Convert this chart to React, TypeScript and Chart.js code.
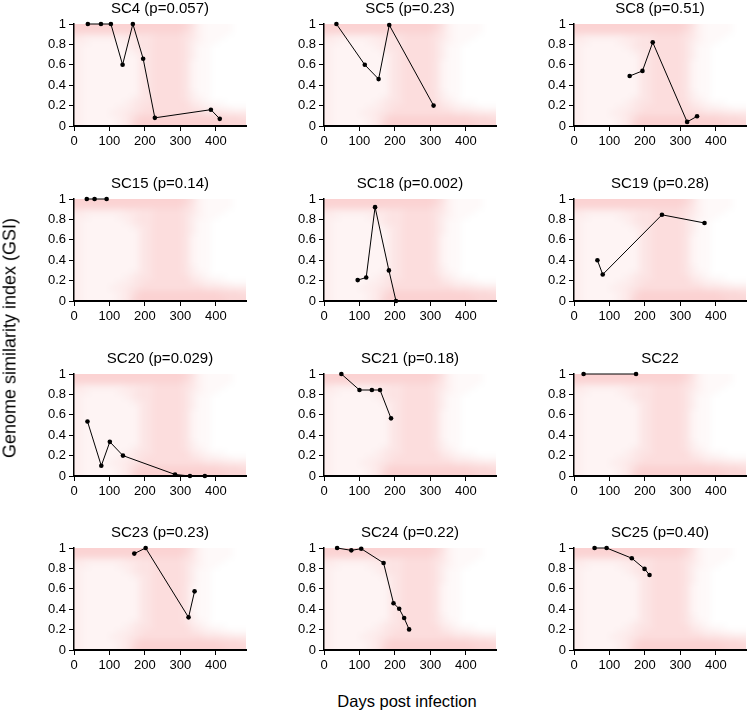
import React, { useEffect, useRef } from "react";
import { Chart, registerables } from "chart.js";

Chart.register(...registerables);

// ---------------- data ----------------
const SC4_DAYS = [39, 76, 104, 137, 166, 195, 228, 386, 411];
const SC4_GSI = [1, 1, 1, 0.6, 1, 0.66, 0.08, 0.16, 0.07];
const SC5_DAYS = [35, 115, 154, 184, 309];
const SC5_GSI = [1, 0.6, 0.46, 0.99, 0.2];
const SC8_DAYS = [157, 193, 222, 319, 347];
const SC8_GSI = [0.49, 0.54, 0.82, 0.04, 0.095];
const SC15_DAYS = [36, 58, 92];
const SC15_GSI = [1, 1, 1];
const SC18_DAYS = [95, 119, 144, 183, 203];
const SC18_GSI = [0.205, 0.23, 0.92, 0.3, 0];
const SC19_DAYS = [66, 81, 248, 368];
const SC19_GSI = [0.4, 0.26, 0.845, 0.765];
const SC20_DAYS = [38, 77, 101, 138, 285, 327, 369];
const SC20_GSI = [0.535, 0.1, 0.335, 0.2, 0.015, 0, 0];
const SC21_DAYS = [49, 100, 135, 158, 189];
const SC21_GSI = [1, 0.843, 0.843, 0.843, 0.565];
const SC22_DAYS = [27, 175];
const SC22_GSI = [1, 1];
const SC23_DAYS = [170, 202, 323, 340];
const SC23_GSI = [0.945, 1, 0.32, 0.575];
const SC24_DAYS = [37, 77, 105, 168, 196, 212, 226, 240];
const SC24_GSI = [1, 0.977, 0.993, 0.853, 0.459, 0.404, 0.313, 0.202];
const SC25_DAYS = [58, 92, 163, 199, 213];
const SC25_GSI = [1, 1, 0.9, 0.795, 0.735];

const PANEL_TITLES = [
  "SC4 (p=0.057)", "SC5 (p=0.23)", "SC8 (p=0.51)",
  "SC15 (p=0.14)", "SC18 (p=0.002)", "SC19 (p=0.28)",
  "SC20 (p=0.029)", "SC21 (p=0.18)", "SC22",
  "SC23 (p=0.23)", "SC24 (p=0.22)", "SC25 (p=0.40)",
];
const PANEL_DAYS = [
  SC4_DAYS, SC5_DAYS, SC8_DAYS, SC15_DAYS, SC18_DAYS, SC19_DAYS,
  SC20_DAYS, SC21_DAYS, SC22_DAYS, SC23_DAYS, SC24_DAYS, SC25_DAYS,
];
const PANEL_GSI = [
  SC4_GSI, SC5_GSI, SC8_GSI, SC15_GSI, SC18_GSI, SC19_GSI,
  SC20_GSI, SC21_GSI, SC22_GSI, SC23_GSI, SC24_GSI, SC25_GSI,
];

const X_TICKS = [0, 100, 200, 300, 400];
const X_TICK_LABELS = ["0", "100", "200", "300", "400"];
const Y_TICKS = [0, 0.2, 0.4, 0.6, 0.8, 1];
const Y_TICK_LABELS = ["0", "0.2", "0.4", "0.6", "0.8", "1"];
const X_MIN = 0;
const X_MAX = 485;

const Y_LABEL = "Genome similarity index (GSI)";
const X_LABEL = "Days post infection";

// background density (rows: GSI 1.0 -> 0.0 in 0.05 steps; columns: days 0 -> max)
const HEAT_ROWS = [
  "888888888888888752111100",
  "777777777777777642111100",
  "433333344556666542111000",
  "332222334556666532110000",
  "322222234556666531100000",
  "322222223456666531100000",
  "322222222456666531100000",
  "322222222456666521100000",
  "322222222456666521100000",
  "322222222456666521100000",
  "322222222456666521100000",
  "322222222456666521100000",
  "322222222456666521100000",
  "322222222456666531100000",
  "322222223456666532100000",
  "322222234556666643211000",
  "322222334566666654332211",
  "322223345666666666555444",
  "322222346888888888887776",
  "322222347888888888888777",
];
const HEAT_MAX_COLOR = [250, 204, 204];

// ---------------- style ----------------
const FONT = "'Liberation Sans', Arial, Helvetica, sans-serif";
const COL_LEFT = [74, 324, 574];
const ROW_TOP = [24, 198.8, 373.6, 548.4];
const PLOT_W = 174;
const PLOT_H = 102;
const PAD_L = 56;
const PAD_T = 24;
const AXIS_H = 26;

function heatColor(ch: string, k: number) {
  const t = Number(ch) / 9;
  return Math.round(255 - (255 - HEAT_MAX_COLOR[k]) * t);
}

const heatPlugin = {
  id: "heatBackground",
  beforeDraw(chart: any) {
    const { ctx } = chart;
    const xs = chart.scales.x;
    const ys = chart.scales.y;
    const rows = HEAT_ROWS.length;
    const cols = HEAT_ROWS[0].length;
    // padded copy (edge cells repeated) so the blur does not fade at the borders
    const off = document.createElement("canvas");
    off.width = cols + 2;
    off.height = rows + 2;
    const octx = off.getContext("2d")!;
    const img = octx.createImageData(cols + 2, rows + 2);
    for (let r = 0; r < rows + 2; r++) {
      for (let c = 0; c < cols + 2; c++) {
        const rr = Math.min(rows - 1, Math.max(0, r - 1));
        const cc = Math.min(cols - 1, Math.max(0, c - 1));
        const ch = HEAT_ROWS[rr][cc];
        const k = (r * (cols + 2) + c) * 4;
        img.data[k] = heatColor(ch, 0);
        img.data[k + 1] = heatColor(ch, 1);
        img.data[k + 2] = heatColor(ch, 2);
        img.data[k + 3] = 255;
      }
    }
    octx.putImageData(img, 0, 0);
    const left = xs.getPixelForValue(X_MIN);
    const right = xs.getPixelForValue(X_MAX);
    const top = ys.getPixelForValue(1);
    const bottom = ys.getPixelForValue(0);
    const cw = (right - left) / cols;
    const chh = (bottom - top) / rows;
    ctx.save();
    ctx.beginPath();
    ctx.rect(left, top, right - left, bottom - top);
    ctx.clip();
    ctx.imageSmoothingEnabled = true;
    ctx.imageSmoothingQuality = "low";
    ctx.filter = "blur(2.5px)";
    ctx.drawImage(off, left - cw, top - chh, (cols + 2) * cw, (rows + 2) * chh);
    ctx.restore();
  },
};

function Panel({ idx }: { idx: number }) {
  const ref = useRef<HTMLCanvasElement | null>(null);
  const col = idx % 3;
  const row = Math.floor(idx / 3);
  const cw = PAD_L + PLOT_W + 2;
  const ch = PAD_T + PLOT_H + AXIS_H;

  useEffect(() => {
    if (!ref.current) return;
    const days = PANEL_DAYS[idx];
    const gsi = PANEL_GSI[idx];
    const chart = new Chart(ref.current, {
      type: "line",
      data: {
        datasets: [
          {
            data: days.map((d, i) => ({ x: d, y: gsi[i] })),
            borderColor: "#000",
            borderWidth: 1,
            pointRadius: 2.3,
            pointBackgroundColor: "#000",
            pointBorderWidth: 0,
            tension: 0,
            clip: false as any,
          },
        ],
      },
      options: {
        responsive: false,
        animation: false,
        devicePixelRatio: 1,
        layout: { padding: { left: 0, right: 2, top: 0, bottom: 0 } },
        plugins: {
          legend: { display: false },
          tooltip: { enabled: false },
          title: {
            display: true,
            fullSize: false,
            text: PANEL_TITLES[idx],
            color: "#000",
            font: { family: FONT, size: 15, weight: "normal", lineHeight: 1.2 },
            padding: { top: 0, bottom: 6 },
          },
        },
        scales: {
          x: {
            type: "linear",
            min: X_MIN,
            max: X_MAX,
            afterBuildTicks: (s: any) => {
              s.ticks = X_TICKS.map((v) => ({ value: v }));
            },
            afterFit: (s: any) => {
              s.height = AXIS_H;
            },
            grid: {
              display: true,
              drawOnChartArea: false,
              drawTicks: true,
              tickLength: 5,
              color: "#000",
              lineWidth: 1,
            },
            border: { display: true, color: "#000", width: 2 },
            ticks: {
              color: "#000",
              font: { family: FONT, size: 13 },
              padding: 3,
              maxRotation: 0,
              autoSkip: false,
              callback: (_v: any, i: number) => X_TICK_LABELS[i],
            },
          },
          y: {
            type: "linear",
            min: 0,
            max: 1,
            afterBuildTicks: (s: any) => {
              s.ticks = Y_TICKS.map((v) => ({ value: v }));
            },
            afterFit: (s: any) => {
              s.width = PAD_L;
            },
            grid: {
              display: true,
              drawOnChartArea: false,
              drawTicks: true,
              tickLength: 5,
              color: "#000",
              lineWidth: 1,
            },
            border: { display: true, color: "#000", width: 1.5 },
            ticks: {
              color: "#000",
              font: { family: FONT, size: 13 },
              padding: 3,
              autoSkip: false,
              callback: (_v: any, i: number) => Y_TICK_LABELS[i],
            },
          },
        },
      },
      plugins: [heatPlugin],
    });
    return () => chart.destroy();
  }, [idx]);

  return (
    <canvas
      ref={ref}
      width={cw}
      height={ch}
      style={{
        position: "absolute",
        left: COL_LEFT[col] - PAD_L,
        top: ROW_TOP[row] - PAD_T,
        width: cw,
        height: ch,
      }}
    />
  );
}

export default function App() {
  return (
    <div
      style={{
        position: "absolute",
        left: 0,
        top: 0,
        width: 748,
        height: 710,
        background: "#fff",
        overflow: "hidden",
        fontFamily: FONT,
      }}
    >
      {PANEL_TITLES.map((_, i) => (
        <Panel key={i} idx={i} />
      ))}
      <div
        style={{
          position: "absolute",
          left: 10,
          top: 338,
          transform: "translate(-50%, -50%) rotate(-90deg)",
          whiteSpace: "nowrap",
          fontSize: 18,
          color: "#000",
        }}
      >
        {Y_LABEL}
      </div>
      <div
        style={{
          position: "absolute",
          left: 407,
          top: 701,
          transform: "translate(-50%, -50%)",
          whiteSpace: "nowrap",
          fontSize: 16.5,
          color: "#000",
        }}
      >
        {X_LABEL}
      </div>
    </div>
  );
}
